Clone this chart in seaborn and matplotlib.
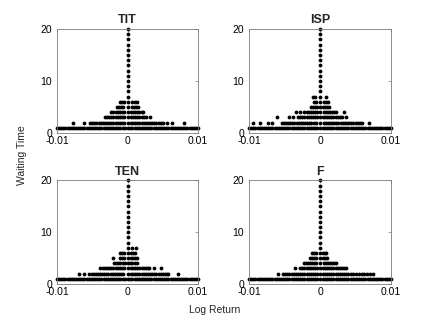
import numpy as np
import pandas as pd
import matplotlib
matplotlib.use("Agg")
import matplotlib.pyplot as plt
import seaborn as sns

# Log returns are stored in basis points (1 bp = 1e-4) and converted below.
PANELS = ["TIT", "ISP", "TEN", "F"]

# waiting times at which a zero log return occurs (central column)
ZERO_WT = [1, 2, 3, 4, 5, 6, 7, 8, 9, 10, 11, 12, 13, 14, 15, 16, 17, 18, 19, 20]

# ---- TIT ----
TIT_W1 = [-100, -97, -94, -91, -88, -85, -82, -79, -76, -73, -70, -67, -64, -61, -58, -55, -52, -49, -46,
          -43, -40, -37, -34, -31, -28, -25, -22, -19, -16, -13, -10, -7, -4, 4, 7, 10, 13, 16, 19, 22, 25,
          28, 31, 34, 37, 40, 43, 46, 49, 52, 55, 58, 61, 64, 67, 70, 73, 76, 79, 82, 85, 88, 91, 94, 97, 100]
TIT_W2 = [-78, -61, -53, -50, -47, -44, -41, -38, -35, -32, -29, -26, -23, -20, -17, -14, -11, -8, -5,
          5, 8, 11, 14, 17, 20, 23, 26, 29, 32, 35, 38, 41, 44, 47, 50, 56, 63, 80]
TIT_W3 = [-32, -29, -26, -23, -20, -17, -14, -11, -8, -5, 5, 8, 11, 14, 17, 20, 23, 26, 32]
TIT_W4 = [-23, -20, -17, -14, -11, -8, -5, 5, 8, 11, 14, 17, 20, 22]
TIT_W5 = [-15, -12, -9, -6, 6, 9, 12, 15]
TIT_W6 = [-11, -8, -5, 7, 10, 13]
TIT_W7 = []

# ---- ISP ----
ISP_W1 = [-100, -97, -94, -91, -88, -85, -82, -79, -76, -73, -70, -67, -64, -61, -58, -55, -52, -49, -46,
          -43, -40, -37, -34, -31, -28, -25, -22, -19, -16, -13, -10, -7, -4, 4, 7, 10, 13, 16, 19, 22, 25,
          28, 31, 34, 37, 40, 43, 46, 49, 52, 55, 58, 61, 64, 67, 70, 73, 76, 79, 82, 85, 88, 91, 94, 97, 100]
ISP_W2 = [-95, -84, -73, -68, -54, -51, -48, -45, -42, -39, -36, -33, -30, -27, -24, -21, -18, -15, -12,
          -9, -6, 5, 8, 11, 14, 17, 20, 23, 26, 29, 32, 35, 38, 41, 44, 47, 50, 53, 56, 59, 69]
ISP_W3 = [-60, -44, -38, -31, -28, -25, -22, -19, -16, -13, -10, -7, -4, 4, 7, 10, 13, 16, 19, 22, 25,
          28, 31, 36]
ISP_W4 = [-34, -28, -22, -19, -16, -13, -10, -7, -4, 5, 8, 11, 14, 17, 20, 23, 34]
ISP_W5 = [-13, -10, -7, -4, 4, 7, 10, 12]
ISP_W6 = [-9, -6, 5, 8, 11]
ISP_W7 = [-10, -7, 8]

# ---- TEN ----
TEN_W1 = [-100, -97, -94, -91, -88, -85, -82, -79, -76, -73, -70, -67, -64, -61, -58, -55, -52, -49, -46,
          -43, -40, -37, -34, -31, -28, -25, -22, -19, -16, -13, -10, -7, -4, 4, 7, 10, 13, 16, 19, 22, 25,
          28, 31, 34, 37, 40, 43, 46, 49, 52, 55, 58, 61, 64, 67, 70, 73, 76, 79, 82, 85, 88, 91, 94, 97, 100]
TEN_W2 = [-69, -62, -54, -51, -48, -45, -42, -39, -36, -33, -30, -27, -24, -21, -18, -15, -12, -9, -6,
          5, 8, 11, 14, 17, 20, 23, 26, 29, 32, 35, 38, 41, 44, 47, 50, 53, 56, 58, 71]
TEN_W3 = [-39, -35, -32, -29, -26, -23, -20, -17, -14, -11, -8, -5, 5, 8, 11, 14, 17, 20, 23, 26, 29,
          31, 38, 47]
TEN_W4 = [-19, -16, -13, -10, -7, -4, 4, 7, 10, 13]
TEN_W5 = [-20, -11, -8, -5, 5, 8, 11, 13]
TEN_W6 = [-11, -8, -5, 5, 8, 11]
TEN_W7 = [6, 12]

# ---- F ----
F_W1 = [-100, -97, -94, -91, -88, -85, -82, -79, -76, -73, -70, -67, -64, -61, -58, -55, -52, -49, -46,
        -43, -40, -37, -34, -31, -28, -25, -22, -19, -16, -13, -10, -7, -4, 4, 7, 10, 13, 16, 19, 22, 25,
        28, 31, 34, 37, 40, 43, 46, 49, 52, 55, 58, 61, 64, 67, 70, 73, 76, 79, 82, 85, 88, 91, 94, 97, 100]
F_W2 = [-59, -52, -49, -46, -43, -40, -37, -34, -31, -28, -25, -22, -19, -16, -13, -10, -7, -4,
        4, 7, 10, 13, 16, 19, 22, 25, 28, 31, 34, 37, 40, 43, 46, 50, 55, 59, 62, 66, 70, 75]
F_W3 = [-35, -28, -25, -22, -19, -16, -13, -10, -7, -4, 4, 7, 10, 13, 16, 19, 22, 25, 28, 31, 34, 37]
F_W4 = [-23, -20, -17, -14, -11, -8, -5, 5, 8, 11, 14, 17, 20, 22]
F_W5 = [-14, -11, -8, -5, 4, 7, 10]
F_W6 = [-11, -8, -6, 4, 7, 9]
F_W7 = []

ROWS = {
    "TIT": [TIT_W1, TIT_W2, TIT_W3, TIT_W4, TIT_W5, TIT_W6, TIT_W7],
    "ISP": [ISP_W1, ISP_W2, ISP_W3, ISP_W4, ISP_W5, ISP_W6, ISP_W7],
    "TEN": [TEN_W1, TEN_W2, TEN_W3, TEN_W4, TEN_W5, TEN_W6, TEN_W7],
    "F": [F_W1, F_W2, F_W3, F_W4, F_W5, F_W6, F_W7],
}

records = []
for p in PANELS:
    for i, row in enumerate(ROWS[p]):
        for v in row:
            records.append((p, v * 1e-4, i + 1))
    for w in ZERO_WT:
        records.append((p, 0.0, w))
df = pd.DataFrame(records, columns=["panel", "ret", "wt"])

sns.set_theme(style="white")
plt.rcParams["font.family"] = ["Liberation Sans", "DejaVu Sans"]

W, H = 436, 319
fig = plt.figure(figsize=(W / 100, H / 100), dpi=100)

boxes = {
    "TIT": (57, 29, 141, 104),
    "ISP": (249, 29, 142, 104),
    "TEN": (57, 180.5, 141, 103.5),
    "F": (249, 180.5, 142, 103.5),
}

frame_col = "#7a7a7a"
for p in PANELS:
    x0, y0, w, h = boxes[p]
    ax = fig.add_axes([x0 / W, 1 - (y0 + h) / H, w / W, h / H])
    sub = df[df["panel"] == p]
    sns.scatterplot(data=sub, x="ret", y="wt", ax=ax, color="black", s=7.5,
                    marker="o", linewidth=0, clip_on=False, legend=False)
    ax.set_xlim(-0.01, 0.01)
    ax.set_ylim(0, 20)
    ax.set_xticks([-0.01, 0, 0.01])
    ax.set_xticklabels(["-0.01", "0", "0.01"])
    ax.set_yticks([0, 10, 20])
    ax.set_yticklabels(["0", "10", "20"])
    ax.set_xlabel("")
    ax.set_ylabel("")
    ax.tick_params(axis="both", direction="in", length=2, width=0.5, color=frame_col,
                   labelsize=7.5, labelcolor="black", top=True, right=True)
    ax.tick_params(axis="x", pad=2.2)
    ax.tick_params(axis="y", pad=3.5)
    for s in ax.spines.values():
        s.set_visible(True)
        s.set_color(frame_col)
        s.set_linewidth(0.6)
    ax.set_title(p, fontsize=9, fontweight="bold", pad=4)

fig.text(22 / W, 1 - 155 / H, "Waiting Time", rotation=90, ha="center", va="center", fontsize=7.5)
fig.text(215 / W, 1 - 310 / H, "Log Return", ha="center", va="center", fontsize=7.5)

fig.savefig("out.png", dpi=100)
